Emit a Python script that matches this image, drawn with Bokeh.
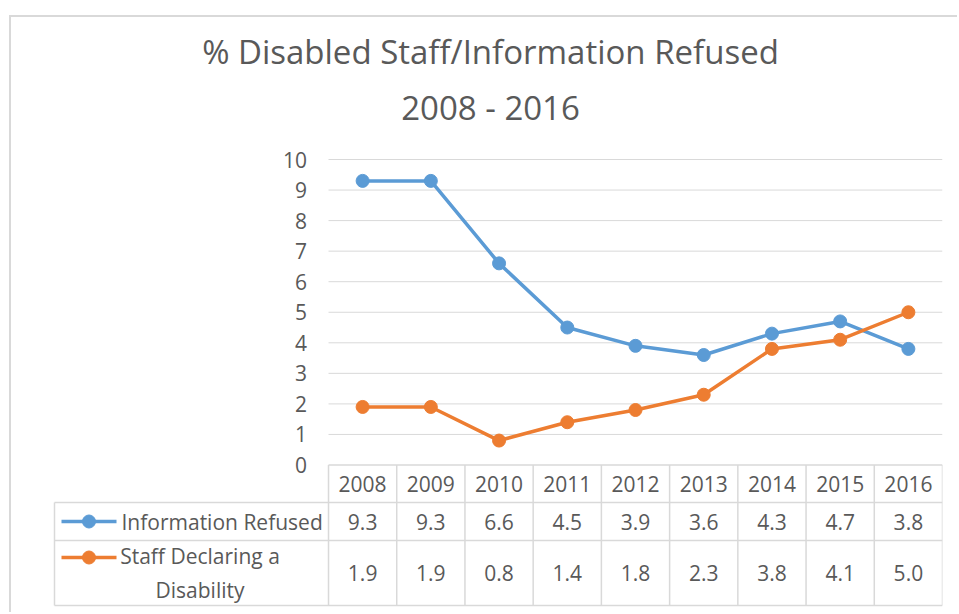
from bokeh.plotting import figure
from bokeh.models import Range1d, Title
from bokeh.core.properties import value
from bokeh.embed import file_html
from bokeh.resources import INLINE

# ---------------- data ----------------
years = [2008, 2009, 2010, 2011, 2012, 2013, 2014, 2015, 2016]
info_refused = [9.3, 9.3, 6.6, 4.5, 3.9, 3.6, 4.3, 4.7, 3.8]
staff_disability = [1.9, 1.9, 0.8, 1.4, 1.8, 2.3, 3.8, 4.1, 5.0]
y_ticks = [0, 1, 2, 3, 4, 5, 6, 7, 8, 9, 10]
series_labels = ["Information Refused", "Staff Declaring a\nDisability"]
title_line1 = "% Disabled Staff/Information Refused"
title_line2 = "2008 - 2016"

# ---------------- styles / geometry ----------------
BLUE = "#5b9bd5"
ORANGE = "#ed7d31"
TEXT = "#595959"
GRID = "#d9d9d9"
FONT = "Open Sans"
FS = "21px"

OX, OY = 11, 17            # canvas origin inside the chart-area border
W, H = 959 - OX, 614 - OY
PX_X = 68.22               # pixels per category
PX_Y = 30.55               # pixels per unit
FRAME_L, FRAME_R, FRAME_T = 38, 942, 150   # page pixels
X0_PAGE, Y0_PAGE = 328, 464.5              # page position of (first edge, 0)
LABEL_COL = 274            # width of legend column of the table

x_first = years[0] - 0.5
x_last = years[-1] + 0.5
x_lo = x_first - (X0_PAGE - FRAME_L) / PX_X
x_tab = x_first - LABEL_COL / PX_X
y_hi = (Y0_PAGE - FRAME_T) / PX_Y
y_lo = -(614 - Y0_PAGE) / PX_Y

row_hdr_bot = -37.5 / PX_Y
row1_bot = -75.5 / PX_Y
row2_bot = -140.5 / PX_Y
hdr_c = row_hdr_bot / 2
row1_c = (row_hdr_bot + row1_bot) / 2
row2_c = (row1_bot + row2_bot) / 2

p = figure(width=W, height=H, output_backend="svg", toolbar_location=None,
           x_range=Range1d(x_lo, x_last), y_range=Range1d(y_lo, y_hi),
           min_border_left=FRAME_L - OX, min_border_right=959 - FRAME_R,
           min_border_top=FRAME_T - OY, min_border_bottom=0)
p.styles = {"margin-left": "9px", "margin-top": "15px",
            "border-left": "2px solid #d9d9d9", "border-top": "2px solid #d9d9d9"}
p.xaxis.visible = False
p.yaxis.visible = False
p.xgrid.visible = False
p.ygrid.visible = False
p.outline_line_color = None
p.background_fill_color = "white"
p.border_fill_color = "white"

tt = dict(align="center", text_font=FONT, text_font_size="33px",
          text_font_style="normal", text_color=TEXT)
p.add_layout(Title(text=title_line2, standoff=42, **tt), "above")
p.add_layout(Title(text=title_line1, standoff=-24, **tt), "above")

# gridlines
g = y_ticks[1:]
p.segment(x0=[x_first] * len(g), x1=[x_last] * len(g), y0=g, y1=g,
          line_color=GRID, line_width=1)

# y tick labels
p.text(x=[x_first] * len(y_ticks), y=y_ticks, text=[str(t) for t in y_ticks],
       x_offset=-21.5, text_align="right", text_baseline="middle",
       text_font=value(FONT), text_font_size=value(FS), text_color=TEXT)

# table lines
hy = [0, row_hdr_bot, row1_bot, row2_bot]
hx0 = [x_first, x_tab, x_tab, x_tab]
p.segment(x0=hx0, x1=[x_last] * 4, y0=hy, y1=hy, line_color=GRID, line_width=1.5)
vx = [x_first + k for k in range(len(years) + 1)]
p.segment(x0=vx, x1=vx, y0=[0] * len(vx), y1=[row2_bot] * len(vx),
          line_color=GRID, line_width=1.5)
p.segment(x0=[x_tab], x1=[x_tab], y0=[row_hdr_bot], y1=[row2_bot],
          line_color=GRID, line_width=1.5)

# table texts
tkw = dict(text_align="center", text_baseline="middle", text_font=value(FONT),
           text_font_size=value(FS), text_color=TEXT)
p.text(x=years, y=[hdr_c] * len(years), text=[str(y) for y in years], **tkw)
p.text(x=years, y=[row1_c] * len(years), text=[f"{v:.1f}" for v in info_refused], **tkw)
p.text(x=years, y=[row2_c] * len(years), text=[f"{v:.1f}" for v in staff_disability], **tkw)

# legend keys inside the table
k0 = x_tab + 7 / PX_X
k1 = x_tab + 62 / PX_X
km = (k0 + k1) / 2
leg2_y = row2_c + 15.5 / PX_Y
p.line([k0, k1], [row1_c, row1_c], line_color=BLUE, line_width=3.5)
p.scatter([km], [row1_c], size=13, fill_color=BLUE, line_color=BLUE)
p.line([k0, k1], [leg2_y, leg2_y], line_color=ORANGE, line_width=3.5)
p.scatter([km], [leg2_y], size=13, fill_color=ORANGE, line_color=ORANGE)

p.text(x=[x_tab], y=[row1_c], text=[series_labels[0]], x_offset=67,
       text_align="left", text_baseline="middle", text_font=value(FONT),
       text_font_size=value(FS), text_color=TEXT)
p.text(x=[x_tab], y=[row2_c], text=[series_labels[1]], x_offset=145.5,
       text_align="center", text_baseline="middle", text_font=value(FONT),
       text_font_size=value(FS), text_color=TEXT, text_line_height=1.2)

# series
p.line(years, info_refused, line_color=BLUE, line_width=3.5)
p.scatter(years, info_refused, size=13, fill_color=BLUE, line_color=BLUE)
p.line(years, staff_disability, line_color=ORANGE, line_width=3.5)
p.scatter(years, staff_disability, size=13, fill_color=ORANGE, line_color=ORANGE)

open("out.html", "w").write(file_html(p, INLINE))
